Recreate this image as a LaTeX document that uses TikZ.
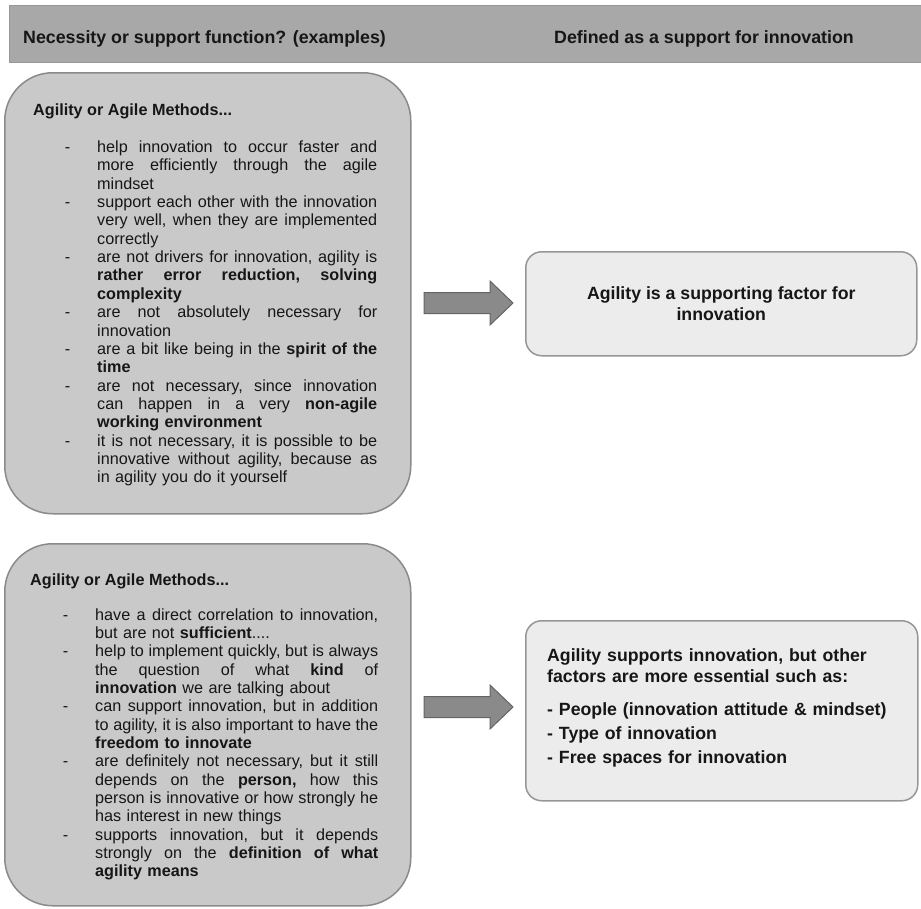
\documentclass[tikz,border=0pt]{standalone}
\usepackage{fontspec}
\setmainfont{Liberation Sans}
\definecolor{headfill}{RGB}{168,168,168}
\definecolor{headline}{RGB}{150,150,150}
\definecolor{bigfill}{RGB}{201,201,201}
\definecolor{bigline}{RGB}{138,138,138}
\definecolor{smallfill}{RGB}{236,236,236}
\definecolor{smallline}{RGB}{150,150,150}
\definecolor{arrfill}{RGB}{138,138,138}
\definecolor{arrline}{RGB}{100,100,100}
\definecolor{txt}{RGB}{22,22,22}
\newlength\agw
\setlength\agw{280pt}
\newcommand\agd{\leavevmode\llap{-\hspace{27pt}}}
\newcommand\agj[1]{\leavevmode\hbox to \agw{\frenchspacing\spaceskip=0.278em plus 1fil minus 0.06em\xspaceskip=\spaceskip #1}}
\tikzset{
  headbar/.style={draw=headline, line width=0.8pt, fill=headfill, inner sep=0pt},
  headtext/.style={inner sep=0pt, text=txt, font=\fontsize{17.8}{21}\selectfont\bfseries},
  bigbox/.style={draw=bigline, line width=1.5pt, fill=bigfill, rounded corners=48pt, inner sep=0pt},
  smallbox/.style={draw=smallline, line width=1.5pt, fill=smallfill, rounded corners=16pt, inner sep=0pt},
  boxtitle/.style={inner sep=0pt, text=txt, font=\fontsize{16.2}{18.35}\selectfont\bfseries},
  listtext/.style={inner sep=0pt, text=txt, align=left, font=\fontsize{16.2}{18.35}\selectfont},
  resulttext/.style={inner sep=0pt, text=txt, font=\fontsize{17.7}{21}\selectfont\bfseries},
  blockarrow/.style={draw=arrline, line width=1pt, fill=arrfill, line join=miter}
}
\begin{document}
\begin{tikzpicture}[x=1pt,y=-1pt]
\useasboundingbox (0,0) rectangle (921,908);
% header
\node[headbar, anchor=north west, minimum width=912pt, minimum height=57pt] (hb) at (9,5) {};
\node[headtext, anchor=base west] (h1) at (23,43) {Necessity or support function? (examples)};
\node[headtext, anchor=base west] (h2) at (554,43) {Defined as a support for innovation};
% left boxes
\node[bigbox, anchor=north west, minimum width=406pt, minimum height=441pt] (b1) at (4,72) {};
\node[bigbox, anchor=north west, minimum width=406pt, minimum height=362pt] (b2) at (4,543) {};
% right boxes
\node[smallbox, anchor=north west, minimum width=391pt, minimum height=104pt] (b3) at (525,251) {};
\node[smallbox, anchor=north west, minimum width=392pt, minimum height=180pt] (b4) at (525,620) {};
% titles
\node[boxtitle, anchor=base west] (t1) at (33,115) {Agility or Agile Methods...};
\node[boxtitle, anchor=base west] (t2) at (30,585) {Agility or Agile Methods...};
% list 1
\node[listtext, text width=280pt, anchor=base west] (l1) at (97,152.5) {%
\setlength\agw{280pt}%
\agd\agj{help innovation to occur faster and}\\
\agj{more efficiently through the agile}\\
mindset\\
\agd\agj{support each other with the innovation}\\
\agj{very well, when they are implemented}\\
correctly\\
\agd\agj{are not drivers for innovation, agility is}\\
\agj{\textbf{rather error reduction, solving}}\\
\textbf{complexity}\\
\agd\agj{are not absolutely necessary for}\\
innovation\\
\agd\agj{are a bit like being in the \textbf{spirit of the}}\\
\textbf{time}\\
\agd\agj{are not necessary, since innovation}\\
\agj{can happen in a very \textbf{non-agile}}\\
\textbf{working environment}\\
\agd\agj{it is not necessary, it is possible to be}\\
\agj{innovative without agility, because as}\\
in agility you do it yourself};
% list 2
\node[listtext, text width=284pt, anchor=base west] (l2) at (95,620) {%
\setlength\agw{283pt}%
\agd\agj{have a direct correlation to innovation,}\\
but are not \textbf{sufficient}....\\
\agd\agj{help to implement quickly, but is always}\\
\agj{the question of what \textbf{kind} of}\\
\textbf{innovation} we are talking about\\
\agd\agj{can support innovation, but in addition}\\
\agj{to agility, it is also important to have the}\\
\textbf{freedom to innovate}\\
\agd\agj{are definitely not necessary, but it still}\\
\agj{depends on the \textbf{person,} how this}\\
\agj{person is innovative or how strongly he}\\
has interest in new things\\
\agd\agj{supports innovation, but it depends}\\
\agj{strongly on the \textbf{definition of what}}\\
\textbf{agility means}};
% result texts
\node[resulttext, align=center] (r1) at (b3.center) {Agility is a supporting factor for\\innovation};
\node[resulttext, align=left, text width=360pt, anchor=base west] (r2) at (547,661) {Agility supports innovation, but other\\
factors are more essential such as:\\[12pt]
- People (innovation attitude \& mindset)\\[3pt]
- Type of innovation\\[3pt]
- Free spaces for innovation};
% arrows
\coordinate (ar1) at (424,303);
\coordinate (ar2) at (424,707);
\draw[blockarrow] (ar1) ++(0,-10.5) -- ++(66,0) -- ++(0,-11.5) -- ++(23,22) -- ++(-23,22) -- ++(0,-11.5) -- ++(-66,0) -- cycle;
\draw[blockarrow] (ar2) ++(0,-10.5) -- ++(66,0) -- ++(0,-11.5) -- ++(23,22) -- ++(-23,22) -- ++(0,-11.5) -- ++(-66,0) -- cycle;
\end{tikzpicture}
\end{document}
